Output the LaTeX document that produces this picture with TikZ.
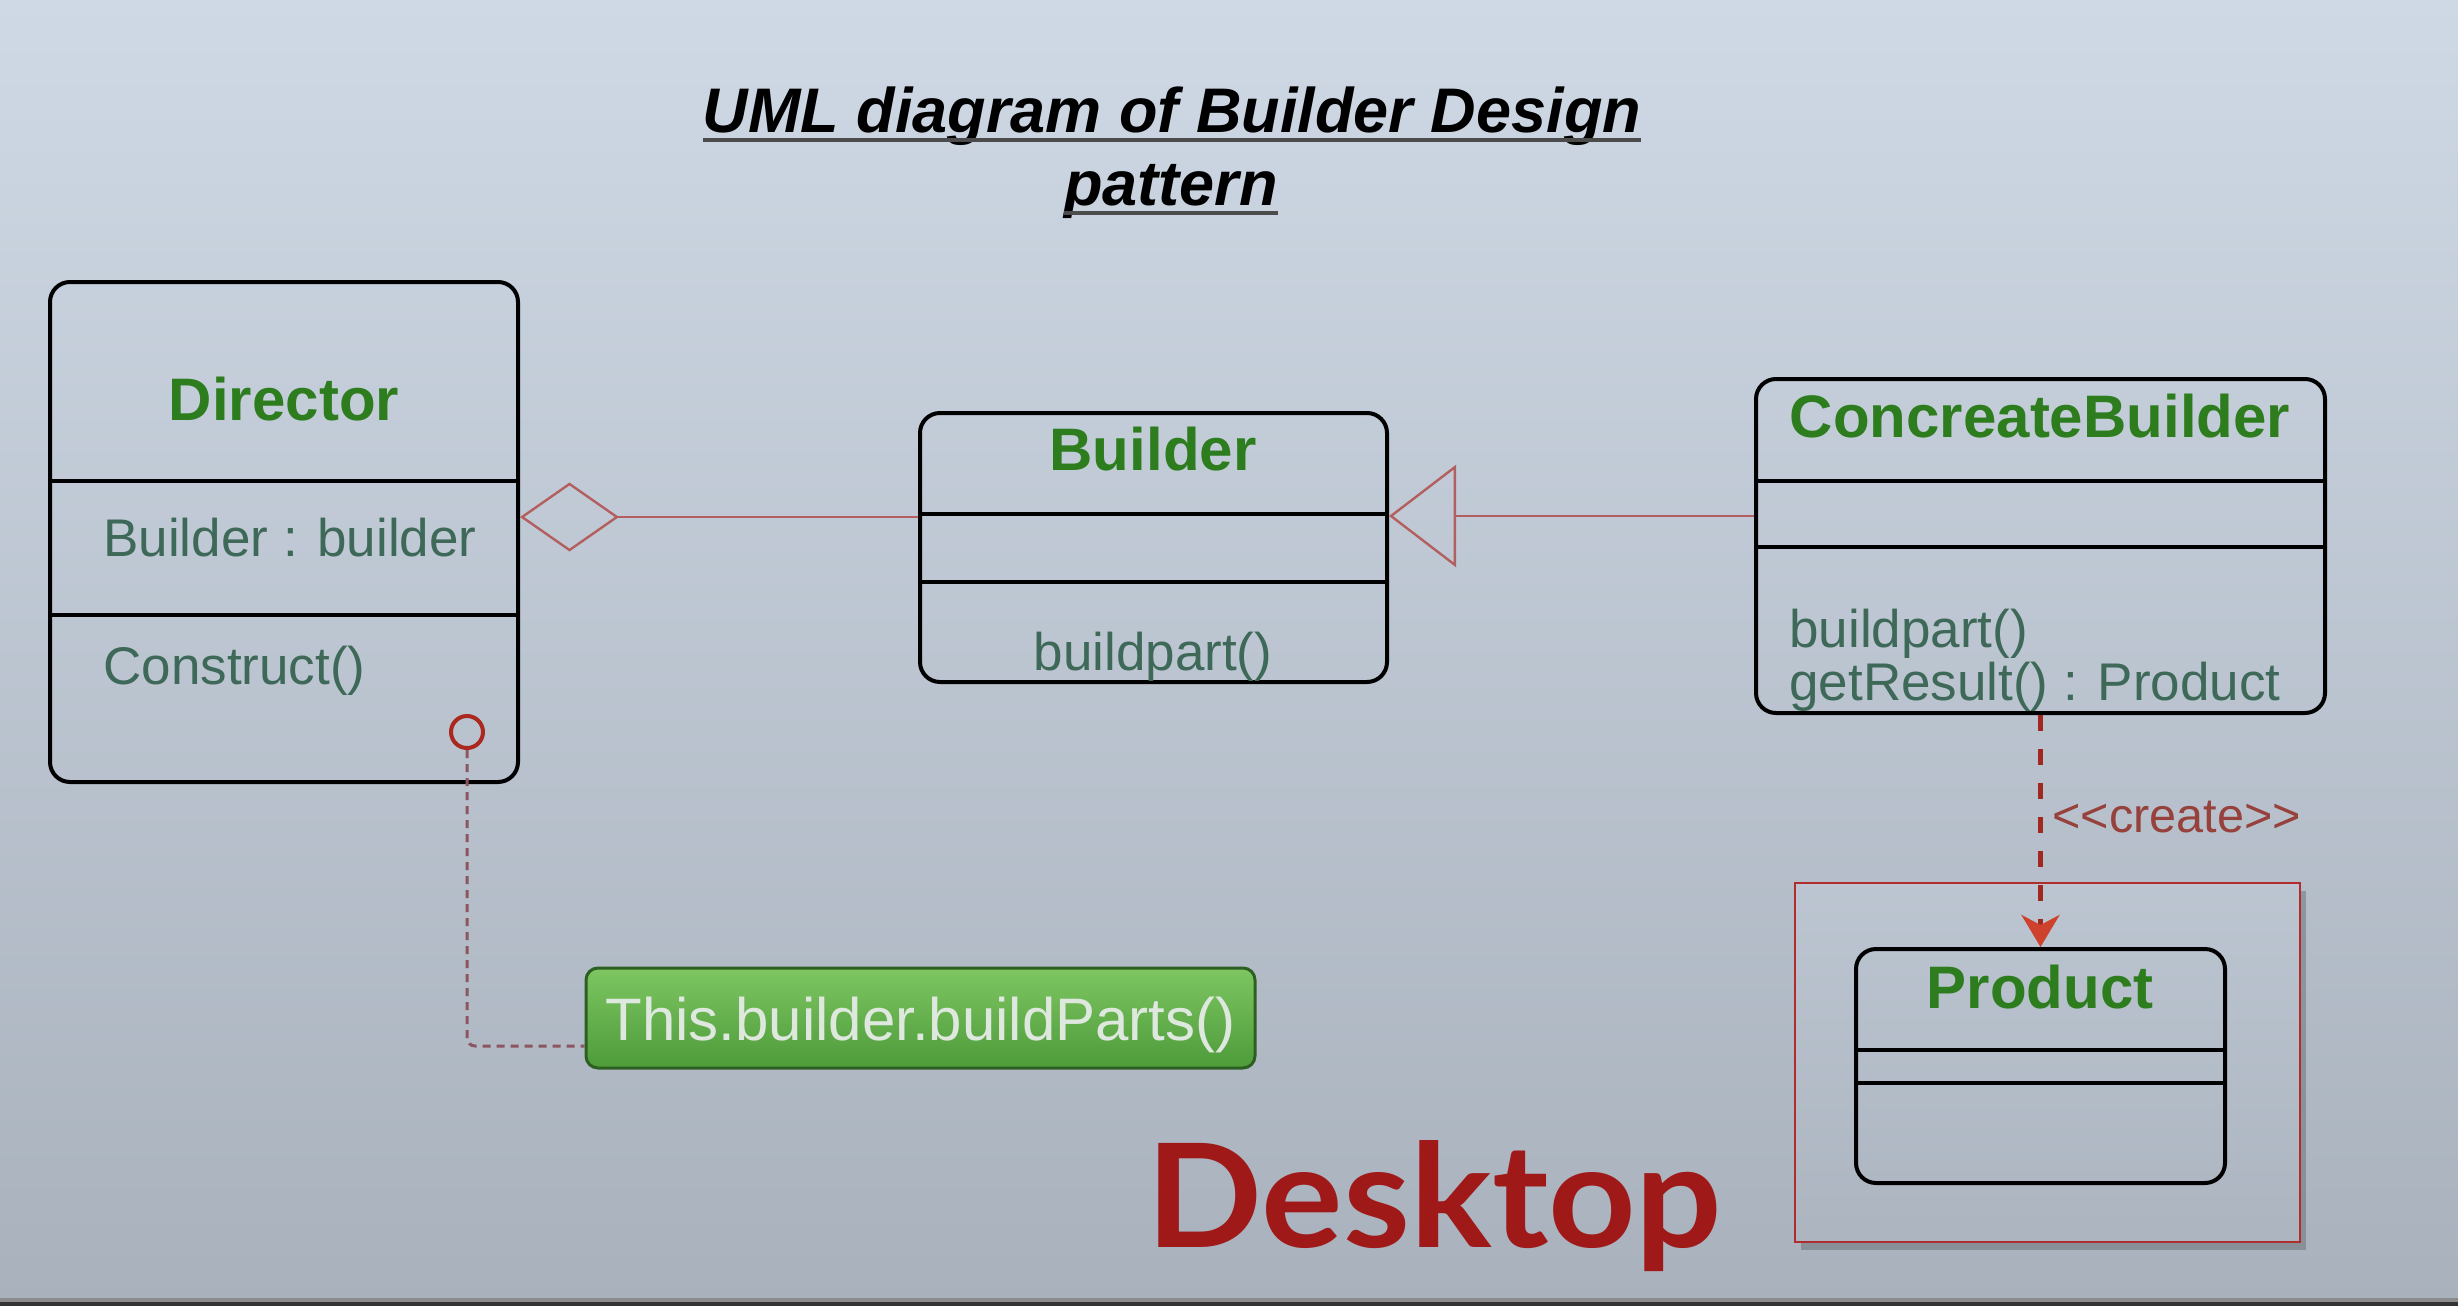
\documentclass[tikz,border=0pt]{standalone}
\usepackage{fontspec}
\setmainfont{Liberation Sans}
\newfontfamily\deskfont{Lato}
\usetikzlibrary{arrows.meta,shadows,calc}
\definecolor{bgtop}{RGB}{207,217,229}
\definecolor{bgmid}{RGB}{201,211,223}
\definecolor{bgbot}{RGB}{168,177,188}
\definecolor{titlegreen}{RGB}{45,125,30}
\definecolor{attrcol}{RGB}{62,104,88}
\definecolor{relcol}{RGB}{180,95,95}
\definecolor{circred}{RGB}{170,40,30}
\definecolor{createcol}{RGB}{160,40,30}
\definecolor{arrowred}{RGB}{205,65,45}
\definecolor{labelcol}{RGB}{150,65,60}
\definecolor{notelink}{RGB}{140,85,95}
\definecolor{notetop}{RGB}{125,198,98}
\definecolor{notebot}{RGB}{78,155,58}
\definecolor{noteborder}{RGB}{45,95,35}
\definecolor{notetext}{RGB}{222,232,222}
\definecolor{deskred}{RGB}{160,25,25}
\definecolor{framered}{RGB}{175,45,45}
\begin{document}
\begin{tikzpicture}[x=0.5pt,y=-0.5pt,
  classbox/.style={draw=black, line width=2pt, rounded corners=10pt, rectangle, inner sep=0pt},
  ctitle/.style={font=\fontsize{30}{36}\selectfont\bfseries, text=titlegreen, inner sep=0pt, anchor=base},
  cattr/.style={font=\fontsize{26.5}{32}\selectfont, text=attrcol, inner sep=0pt, anchor=base west},
  cattrc/.style={font=\fontsize{26.5}{32}\selectfont, text=attrcol, inner sep=0pt, anchor=base},
  divider/.style={line width=2pt, black},
  rel/.style={draw=relcol, line width=1.2pt},
  titletext/.style={font=\fontsize{31.5}{36}\selectfont\bfseries\itshape, inner sep=0pt, anchor=base},
  uline/.style={line width=2.2pt, draw=black!70}
]
\useasboundingbox (0,0) rectangle (2458,1306);
% background
\shade[top color=bgtop, middle color=bgmid, bottom color=bgbot] (0,0) rectangle (2458,1306);
\fill[black!45] (0,1298) rectangle (2458,1302);
\fill[black!80] (0,1302) rectangle (2458,1306);

% title
\node[titletext] (t1) at (1172,132) {UML diagram of Builder Design};
\node[titletext] (t2) at (1171,205) {pattern};
\draw[uline] ($(t1.base west)+(0,8)$) -- ($(t1.base east)+(0,8)$);
\draw[uline] ($(t2.base west)+(0,8)$) -- ($(t2.base east)+(0,8)$);

% helper coordinates for divider levels
\coordinate (dd1) at (0,481);
\coordinate (dd2) at (0,615);
\coordinate (bd1) at (0,514);
\coordinate (bd2) at (0,582);
\coordinate (cd1) at (0,481);
\coordinate (cd2) at (0,547);
\coordinate (pd1) at (0,1050);
\coordinate (pd2) at (0,1083);
\coordinate (aggy) at (0,517);
\coordinate (geny) at (0,516);

% Director
\node[classbox, minimum width=234pt, minimum height=250pt] (director) at (284,532) {};
\draw[divider] (director.west |- dd1) -- (director.east |- dd1);
\draw[divider] (director.west |- dd2) -- (director.east |- dd2);
\node[ctitle] (dirname) at (284,420) {Director};
\node[cattr] (dirattr) at (103,556) {Builder : builder};
\node[cattr] (dirop) at (103,684) {Construct()};
\node[circle, draw=circred, line width=2pt, minimum size=16pt, inner sep=0pt] (circ) at (467,732) {};

% Builder
\node[classbox, minimum width=233.5pt, minimum height=134.5pt] (builder) at (1153.5,547.5) {};
\draw[divider] (builder.west |- bd1) -- (builder.east |- bd1);
\draw[divider] (builder.west |- bd2) -- (builder.east |- bd2);
\node[ctitle] (bname) at (1153,470) {Builder};
\node[cattrc] (bop) at (1153,670) {buildpart()};

% ConcreateBuilder
\node[classbox, minimum width=284.5pt, minimum height=167pt] (cb) at (2040.5,546) {};
\draw[divider] (cb.west |- cd1) -- (cb.east |- cd1);
\draw[divider] (cb.west |- cd2) -- (cb.east |- cd2);
\node[ctitle] (cbname) at (2040,437) {ConcreateBuilder};
\node[cattr] (cbop1) at (1789,647) {buildpart()};
\node[cattr] (cbop2) at (1789,700) {getResult() : Product};

% Product frame and class
\node[rectangle, draw=framered, line width=1pt, top color=bgbot!40!bgmid, bottom color=bgbot!90!bgmid,
      minimum width=252.5pt, minimum height=179.5pt, inner sep=0pt,
      drop shadow={shadow xshift=3pt, shadow yshift=-4pt, opacity=0.35, fill=black!70}] (frame) at (2047.5,1062.5) {};
\node[classbox, minimum width=184.5pt, minimum height=117pt] (product) at (2040.5,1066) {};
\draw[divider] (product.west |- pd1) -- (product.east |- pd1);
\draw[divider] (product.west |- pd2) -- (product.east |- pd2);
\node[ctitle] (pname) at (2040,1008) {Product};

% note
\node[rectangle, rounded corners=6pt, draw=noteborder, line width=1.5pt, top color=notetop, bottom color=notebot,
      minimum width=334.5pt, minimum height=50pt, inner sep=0pt, text height=22pt, text depth=0pt,
      font=\fontsize{30}{36}\selectfont, text=notetext] (note) at (920.5,1018) {This.builder.buildParts()};

% connectors
\draw[rel, {Diamond[open, length=49.5pt, width=34.5pt]}-] (director.east |- aggy) -- (builder.west |- aggy);
\draw[rel, -{Triangle[open, length=33.5pt, width=51pt]}] (cb.west |- geny) -- (builder.east |- geny);
\draw[draw=createcol, line width=2.5pt, dash pattern=on 8pt off 9pt,
      -{Stealth[length=16pt, width=19pt, inset=5pt, color=arrowred]}] (cb.south) -- (cb.south |- product.north);
\node[font=\fontsize{24.3}{30}\selectfont, text=labelcol, inner sep=0pt, anchor=base west] (createlbl) at (2052,832) {{<}{<}create{>}{>}};
\draw[draw=notelink, line width=1.5pt, dash pattern=on 4pt off 3pt, rounded corners=4pt]
      (circ.south) |- ($(note.west)+(0,28)$);

% Desktop
\node[font=\deskfont\bfseries\fontsize{72}{84}\selectfont, text=deskred, inner sep=0pt, anchor=base west, xscale=1.06] (desk) at (1146,1247) {Desktop};
\end{tikzpicture}
\end{document}
